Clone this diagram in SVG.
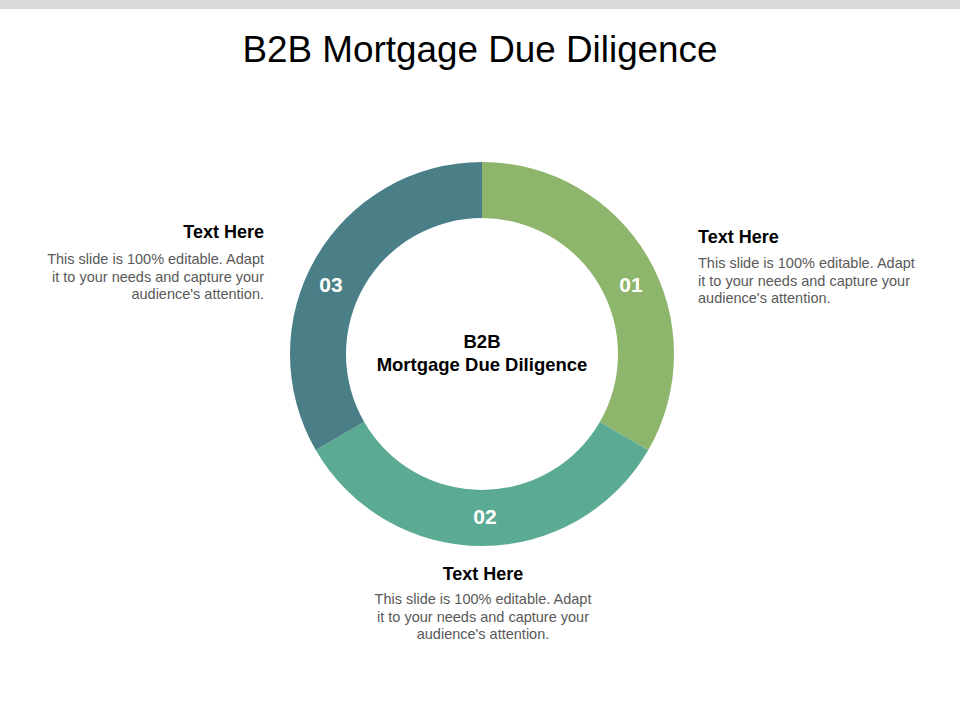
<svg xmlns="http://www.w3.org/2000/svg" width="960" height="720" viewBox="0 0 960 720">
<style>
.title{font-family:"Liberation Sans",Arial,sans-serif;font-size:36px;fill:#000}
.num{font-family:"Liberation Sans",Arial,sans-serif;font-size:21px;font-weight:bold;fill:#fff}
.center{font-family:"Liberation Sans",Arial,sans-serif;font-size:18.5px;font-weight:bold;fill:#000}
.head{font-family:"Liberation Sans",Arial,sans-serif;font-size:18px;font-weight:bold;fill:#000}
.body{font-family:"Liberation Sans",Arial,sans-serif;font-size:14.5px;fill:#595959}
</style>
<rect x="0" y="0" width="960" height="720" fill="#fff"/>
<rect x="0" y="0" width="960" height="9" fill="#D9D9D9"/>
<text class="title" x="480" y="62" text-anchor="middle" textLength="475" lengthAdjust="spacingAndGlyphs">B2B Mortgage Due Diligence</text>
<g id="connectors"></g>
<g id="seg01">
<path d="M 482 162 A 192 192 0 0 1 648.28 450 L 599.78 422 A 136 136 0 0 0 482 218 Z" fill="#8DB56C"/>
<text class="num" x="631" y="292" text-anchor="middle">01</text>
</g>
<g id="seg02">
<path d="M 648.28 450 A 192 192 0 0 1 315.72 450 L 364.22 422 A 136 136 0 0 0 599.78 422 Z" fill="#5BAA93"/>
<text class="num" x="485" y="524" text-anchor="middle">02</text>
</g>
<g id="seg03">
<path d="M 315.72 450 A 192 192 0 0 1 482 162 L 482 218 A 136 136 0 0 0 364.22 422 Z" fill="#4A7F87"/>
<text class="num" x="331" y="292" text-anchor="middle">03</text>
</g>
<g id="center">
<text class="center" x="482" y="348" text-anchor="middle">B2B</text>
<text class="center" x="482" y="371" text-anchor="middle">Mortgage Due Diligence</text>
</g>
<g id="text01">
<text class="head" x="698" y="243">Text Here</text>
<text class="body" x="698" y="268">This slide is 100% editable.  Adapt</text>
<text class="body" x="698" y="286">it to your needs and capture your</text>
<text class="body" x="698" y="303">audience's attention.</text>
</g>
<g id="text02">
<text class="head" x="483" y="580" text-anchor="middle">Text Here</text>
<text class="body" x="483" y="604" text-anchor="middle">This slide is 100% editable.  Adapt</text>
<text class="body" x="483" y="622" text-anchor="middle">it to your needs and capture your</text>
<text class="body" x="483" y="639" text-anchor="middle">audience's attention.</text>
</g>
<g id="text03">
<text class="head" x="264" y="238" text-anchor="end">Text Here</text>
<text class="body" x="264" y="264" text-anchor="end">This slide is 100% editable.  Adapt</text>
<text class="body" x="264" y="282" text-anchor="end">it to your needs and capture your</text>
<text class="body" x="264" y="299" text-anchor="end">audience's attention.</text>
</g>
</svg>
